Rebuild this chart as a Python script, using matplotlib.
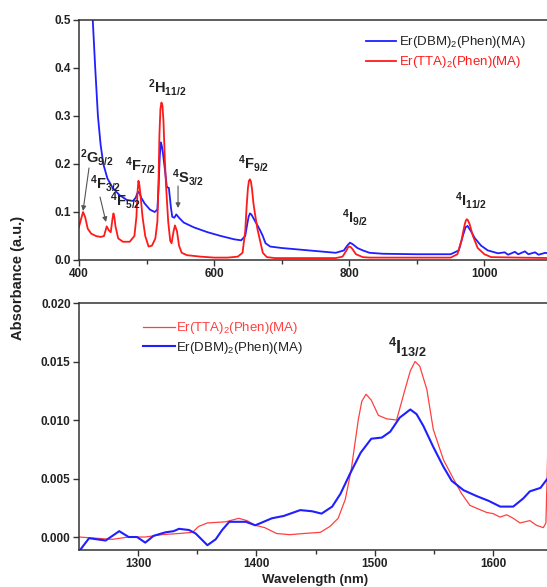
import matplotlib
matplotlib.use("Agg")
import matplotlib.pyplot as plt
import numpy as np

plt.rcParams['font.family'] = ['Liberation Sans', 'DejaVu Sans']
plt.rcParams['mathtext.fontset'] = 'custom'
plt.rcParams['mathtext.rm'] = 'Liberation Sans'
plt.rcParams['mathtext.it'] = 'Liberation Sans:italic'
plt.rcParams['mathtext.bf'] = 'Liberation Sans:bold'

# ---------------- Top panel data (UV-Vis-NIR) ----------------
vis_red_nm = [400, 403, 406, 409, 413, 418, 425, 432, 437, 441, 444, 447, 449.5, 451, 452.5, 454, 458,
              465, 475, 482, 485, 486.5, 488, 489.5, 491, 494, 498, 503, 508, 513, 516, 517.5, 519,
              520.5, 522, 523.5, 525, 527, 529, 532, 535, 537, 540, 542, 545, 548, 552, 560, 580, 600,
              620, 635, 642, 646, 648, 650, 651.5, 653, 654.5, 656, 658, 660, 664, 668, 672, 678, 690,
              720, 760, 780, 790, 795, 798, 800, 802, 804, 810, 820, 830, 870, 910, 950, 960, 966, 969,
              971, 972.5, 974, 975.5, 978, 983, 990, 1000, 1010, 1050, 1100]
vis_red_abs = [0.069, 0.085, 0.100, 0.090, 0.065, 0.055, 0.050, 0.048, 0.050, 0.070, 0.062, 0.058, 0.085,
               0.097, 0.088, 0.070, 0.045, 0.038, 0.038, 0.050, 0.090, 0.140, 0.165, 0.155, 0.135, 0.090,
               0.050, 0.028, 0.030, 0.045, 0.080, 0.150, 0.260, 0.315, 0.328, 0.322, 0.290, 0.210, 0.150,
               0.080, 0.040, 0.035, 0.060, 0.072, 0.060, 0.030, 0.015, 0.010, 0.007, 0.005, 0.005, 0.007,
               0.015, 0.060, 0.110, 0.150, 0.165, 0.168, 0.163, 0.148, 0.120, 0.100, 0.065, 0.040, 0.015,
               0.006, 0.004, 0.004, 0.004, 0.004, 0.007, 0.018, 0.026, 0.028, 0.027, 0.024, 0.012, 0.006,
               0.005, 0.005, 0.005, 0.005, 0.012, 0.040, 0.062, 0.075, 0.082, 0.085, 0.083, 0.075, 0.050,
               0.025, 0.012, 0.006, 0.005, 0.004]

vis_blue_nm = [412, 416, 420, 424, 428, 432, 436, 442, 450, 460, 471, 480, 484, 486, 488, 490, 492, 497,
               505, 512, 516, 518, 519.5, 521, 522.5, 524, 527, 530, 533, 536, 538, 541, 544, 548, 555,
               570, 590, 610, 630, 640, 646, 649, 651, 653, 655, 657, 663, 668, 672, 676, 683, 700, 740,
               780, 792, 797, 801, 805, 812, 820, 830, 850, 900, 950, 962, 968, 972, 975, 980, 986, 995,
               1005, 1020, 1030, 1035, 1045, 1050, 1060, 1065, 1075, 1080, 1090, 1100]
vis_blue_abs = [0.700, 0.600, 0.510, 0.400, 0.300, 0.240, 0.200, 0.170, 0.150, 0.135, 0.125, 0.123, 0.130,
                0.138, 0.142, 0.138, 0.130, 0.118, 0.105, 0.100, 0.105, 0.160, 0.215, 0.245, 0.238, 0.225,
                0.190, 0.152, 0.150, 0.110, 0.090, 0.088, 0.095, 0.088, 0.078, 0.068, 0.058, 0.050, 0.043,
                0.041, 0.050, 0.075, 0.090, 0.097, 0.095, 0.090, 0.075, 0.062, 0.050, 0.035, 0.028, 0.025,
                0.020, 0.015, 0.020, 0.030, 0.036, 0.033, 0.025, 0.020, 0.015, 0.013, 0.012, 0.012, 0.020,
                0.050, 0.068, 0.071, 0.060, 0.045, 0.030, 0.020, 0.014, 0.016, 0.011, 0.017, 0.012, 0.018,
                0.012, 0.016, 0.011, 0.015, 0.012]

# ---------------- Bottom panel data (NIR 4I13/2) ----------------
nir_red_nm = [1250, 1264, 1278, 1292, 1306, 1320, 1334.5, 1346, 1351, 1358.5, 1374, 1385, 1392, 1399,
              1407, 1417, 1428, 1440, 1454, 1462, 1469, 1475, 1480, 1486, 1489, 1492.6, 1497, 1503, 1510,
              1518.4, 1525.5, 1530, 1534, 1538, 1544, 1549.4, 1558, 1566.3, 1573.4, 1580.4, 1587.4,
              1594.5, 1600, 1605.8, 1611.4, 1617, 1622.7, 1631, 1636.7, 1642.4, 1644.6, 1645.6, 1646.5]
nir_red_abs = [0.0000, -0.0001, -0.0002, 0.0000, 0.0000, 0.0002, 0.0003, 0.0004, 0.0009, 0.0012, 0.0013,
               0.0016, 0.0014, 0.0010, 0.0008, 0.0003, 0.0002, 0.0003, 0.0004, 0.0009, 0.0016, 0.0032,
               0.0057, 0.0100, 0.0116, 0.0122, 0.0117, 0.0104, 0.0101, 0.0100, 0.0126, 0.0142, 0.0150,
               0.0146, 0.0126, 0.0092, 0.0066, 0.0050, 0.0037, 0.0027, 0.0024, 0.0021, 0.0020, 0.0017,
               0.0019, 0.0016, 0.0012, 0.0014, 0.0010, 0.0008, 0.0012, 0.0050, 0.0090]

nir_blue_nm = [1251, 1258.5, 1272.5, 1284, 1292, 1299, 1306, 1313, 1323, 1330, 1334.5, 1343, 1348.6,
               1358.5, 1365.5, 1371, 1377, 1391, 1399, 1413, 1423, 1437, 1447, 1455, 1464, 1471, 1479,
               1488, 1497, 1506, 1513, 1521, 1530, 1535.3, 1541, 1549.4, 1558, 1565, 1575, 1586, 1596,
               1606, 1617, 1625.5, 1631, 1640, 1646]
nir_blue_abs = [-0.0011, -0.0001, -0.0003, 0.0005, 0.0000, 0.0000, -0.00048, 0.0001, 0.0004, 0.0005,
                0.0007, 0.0006, 0.0003, -0.0007, -0.0002, 0.0006, 0.0013, 0.0013, 0.0010, 0.0016, 0.0018,
                0.0023, 0.0022, 0.0020, 0.0026, 0.0037, 0.0054, 0.0072, 0.0084, 0.0085, 0.0090, 0.0102,
                0.0109, 0.0105, 0.0095, 0.0077, 0.0060, 0.0048, 0.0040, 0.0035, 0.0031, 0.0026, 0.0026,
                0.0033, 0.0039, 0.0042, 0.0050]

label_dbm = 'Er(DBM)$_2$(Phen)(MA)'
label_tta = 'Er(TTA)$_2$(Phen)(MA)'

W, H = 547, 587
fig = plt.figure(figsize=(W / 100, H / 100), dpi=100)

spine_col = '#333333'
tick_kw = dict(direction='out', length=4, width=1.0, colors=spine_col, labelcolor='#222222',
               labelsize=8.5, pad=2)


def style_axes(ax):
    for s in ax.spines.values():
        s.set_color(spine_col)
        s.set_linewidth(1.1)
    ax.tick_params(axis='both', which='major', **tick_kw)
    ax.tick_params(axis='x', which='minor', direction='out', length=3, width=1.0, colors=spine_col)
    ax.tick_params(axis='y', which='minor', left=False)
    for lab in ax.get_xticklabels() + ax.get_yticklabels():
        lab.set_fontweight('bold')


# ---------- top axes ----------
ax1 = fig.add_axes([79 / W, 1 - 260 / H, 473 / W, 240 / H])
ax1.plot(vis_blue_nm, vis_blue_abs, color='#1f1fff', lw=1.3, label=label_dbm)
ax1.plot(vis_red_nm, vis_red_abs, color='#ff1a1a', lw=1.3, label=label_tta)
ax1.set_xlim(400, 1100)
ax1.set_ylim(0, 0.5)
ax1.set_xticks([400, 600, 800, 1000])
ax1.set_xticks([500, 700, 900], minor=True)
ax1.set_yticks([0.0, 0.1, 0.2, 0.3, 0.4, 0.5])
ax1.set_yticklabels(['0.0', '0.1', '0.2', '0.3', '0.4', '0.5'])
style_axes(ax1)

leg1 = ax1.legend(loc='upper left', bbox_to_anchor=(0.606, 0.94), frameon=False, fontsize=9.5,
                  handlelength=2.3, handletextpad=0.25, borderpad=0, borderaxespad=0,
                  labelspacing=0.3, labelcolor=['#222222', '#ff1a1a'])

ann_fs = 10.5
ann_col = '#222222'
arrow_kw = dict(arrowstyle='-|>', color='#555555', lw=0.8, mutation_scale=7, shrinkA=0, shrinkB=0)


def px2top(px, py):
    return 400 + (px - 79) / 0.6755, (260 - py) / 480


labels_top = [
    (r'$\mathbf{^{2}G_{9/2}}$', 80, 157),
    (r'$\mathbf{^{4}F_{3/2}}$', 90, 183),
    (r'$\mathbf{^{4}F_{5/2}}$', 110, 200),
    (r'$\mathbf{^{4}F_{7/2}}$', 125, 165),
    (r'$\mathbf{^{2}H_{11/2}}$', 148, 87),
    (r'$\mathbf{^{4}S_{3/2}}$', 172, 177),
    (r'$\mathbf{^{4}F_{9/2}}$', 238, 163),
    (r'$\mathbf{^{4}I_{9/2}}$', 342, 217),
    (r'$\mathbf{^{4}I_{11/2}}$', 455, 200),
]
for txt, px, py in labels_top:
    x, y = px2top(px, py)
    ax1.text(x, y, txt, fontsize=ann_fs, color=ann_col, ha='left', va='center')

arrows_top = [((89, 168), (83, 211)), ((100, 197), (106, 222)), ((178, 186), (178, 208))]
for (sx, sy), (tx, ty) in arrows_top:
    ax1.annotate('', xy=px2top(tx, ty), xytext=px2top(sx, sy), arrowprops=arrow_kw)

# ---------- bottom axes ----------
ax2 = fig.add_axes([79 / W, 1 - 550 / H, 473.3 / W, 247 / H])
ax2.plot(nir_red_nm, nir_red_abs, color='#ff4040', lw=0.9, label=label_tta)
ax2.plot(nir_blue_nm, nir_blue_abs, color='#1f1fff', lw=1.5, label=label_dbm)
ax2.set_xlim(1250, 1650)
ax2.set_ylim(-0.00111, 0.020)
ax2.set_xticks([1300, 1400, 1500, 1600])
ax2.set_xticks([1350, 1450, 1550], minor=True)
ax2.set_yticks([0.000, 0.005, 0.010, 0.015, 0.020])
ax2.set_yticklabels(['0.000', '0.005', '0.010', '0.015', '0.020'])
style_axes(ax2)

leg2 = ax2.legend(loc='upper left', bbox_to_anchor=(0.135, 0.93), frameon=False, fontsize=9.5,
                  handlelength=2.4, handletextpad=0.1, borderpad=0, borderaxespad=0,
                  labelspacing=0.25, labelcolor=['#ff4040', '#222222'])

ax2.text(1250 + (388 - 79) / 1.1833, (537 - 347) / 11700, r'$\mathbf{^{4}I_{13/2}}$',
         fontsize=13, color=ann_col, ha='left', va='center')

fig.text(18 / W, 1 - 278 / H, 'Absorbance (a.u.)', rotation=90, ha='center', va='center',
         fontsize=10.5, fontweight='bold', color='#222222')
fig.text(315 / W, 1 - 580 / H, 'Wavelength (nm)', ha='center', va='center',
         fontsize=9.5, fontweight='bold', color='#222222')

fig.savefig('out.png', dpi=100)
